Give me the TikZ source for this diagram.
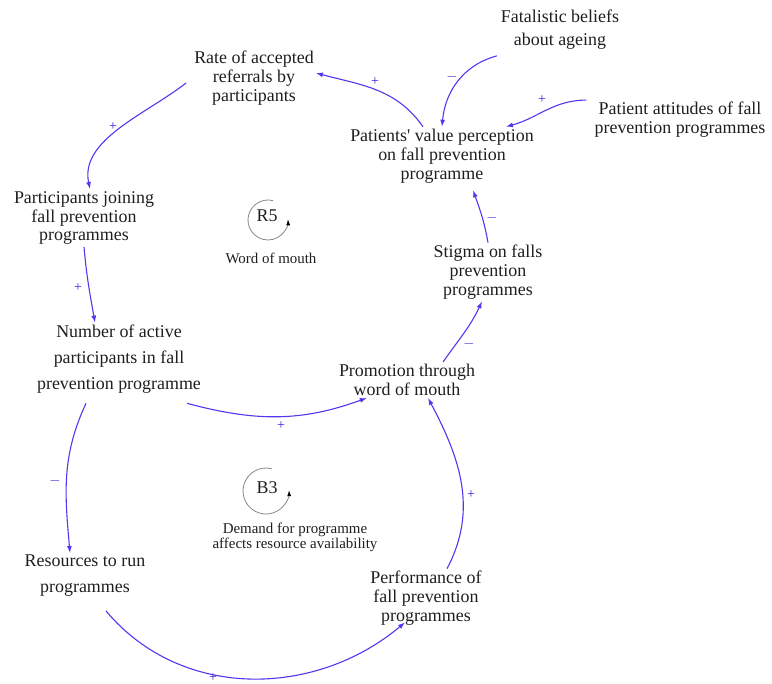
\documentclass[tikz,border=0pt]{standalone}
\usepackage{fontspec}
\setmainfont{Liberation Serif}
\newfontfamily\rawserif{Liberation Serif}[Ligatures=TeXOff]
\usetikzlibrary{arrows.meta,calc}
\definecolor{linkblue}{RGB}{88,52,240}
\definecolor{signblue}{RGB}{60,30,225}
\definecolor{loopgray}{RGB}{135,135,135}
\definecolor{ink}{RGB}{30,30,30}

\begin{document}
\begin{tikzpicture}[x=1bp,y=1bp,
  var/.style={align=center, text=ink, font=\fontsize{18}{19}\selectfont, inner sep=2bp},
  wide/.style={font=\fontsize{18}{26}\selectfont},
  link/.style={draw=linkblue, line width=1.1bp, -{Latex[length=7bp,width=5bp]}},
  pol/.style={text=signblue, font=\fontsize{14}{14}\selectfont, inner sep=0pt},
  looplabel/.style={align=center, text=ink, font=\fontsize{15}{15}\selectfont},
  loopsym/.style={draw=loopgray, line width=0.8bp, -{Latex[length=6bp,width=4bp,color=black]}}
]
\useasboundingbox (0,0) rectangle (772,-684);

% variables
\node[var, font=\fontsize{18}{23}\selectfont] (fat) at (560,-30) {Fatalistic beliefs\\about ageing};
\node[var] (rate) at (254,-78) {Rate of accepted\\referrals by\\participants};
\node[var] (value) at (442,-156) {Patients{\rawserif'} value perception\\on fall prevention\\programme};
\node[var] (att) at (680,-120) {Patient attitudes of fall\\prevention programmes};
\node[var] (join) at (84,-218) {Participants joining\\fall prevention\\programmes};
\node[var] (stig) at (488,-272) {Stigma on falls\\prevention\\programmes};
\node[var, wide] (num) at (119,-359) {Number of active\\participants in fall\\prevention programme};
\node[var] (prom) at (407,-380) {Promotion through\\word of mouth};
\node[var, wide] (res) at (85,-576) {Resources to run\\programmes};
\node[var] (perf) at (426,-598) {Performance of\\fall prevention\\programmes};

% causal links
\draw[link] ([xshift=-2bp,yshift=-4bp]fat.south west) to[out=195,in=85] (value.north);
\draw[link] ([xshift=-6bp]att.north west) to[out=180,in=15] ([xshift=-30bp]value.north east);
\draw[link] ([xshift=-19bp]value.north) to[out=125,in=-15] ([yshift=5bp]rate.east);
\draw[link] ([xshift=-6bp,yshift=-5bp]rate.west) to[out=218,in=102,looseness=0.9] ([xshift=6bp]join.north);
\draw[link] (join.south) to[out=-85,in=100] ([xshift=-24bp]num.north);
\draw[link] ([xshift=-16bp,yshift=-8bp]num.south east) to[out=-15,in=200] ([xshift=30bp]prom.south west);
\draw[link] ([xshift=36bp]prom.north) to[out=55,in=-115] ([xshift=-6bp]stig.south);
\draw[link] (stig.north) to[out=100,in=-70] ([xshift=31bp,yshift=-5bp]value.south);
\draw[link] ([xshift=-33bp,yshift=-8bp]num.south) to[out=-115,in=95] ([xshift=-15bp]res.north);
\draw[link] ([xshift=21bp,yshift=-12bp]res.south) to[out=-50,in=-140] ([xshift=-21bp,yshift=5bp]perf.south);
\draw[link] ([xshift=21bp]perf.north) to[out=62,in=-62] ([xshift=21bp]prom.south);

% polarities
\node[pol] (p1) at (452,-77) {$-$};
\node[pol] (p2) at (542,-100) {+};
\node[pol] (p3) at (375,-82) {+};
\node[pol] (p4) at (113,-127) {+};
\node[pol] (p5) at (78,-288) {+};
\node[pol] (p6) at (281,-426) {+};
\node[pol] (p7) at (469,-344) {$-$};
\node[pol] (p8) at (492,-218) {$-$};
\node[pol] (p9) at (55,-481) {$-$};
\node[pol] (p10) at (213,-678) {+};
\node[pol] (p11) at (471,-495) {+};

% loop markers
\coordinate (r5c) at (268,-220);
\draw[loopsym] ($(r5c)+(75:20)$) arc[start angle=75,end angle=362,radius=20];
\node[var] (r5) at (267,-216) {R5};
\node[looplabel] (wom) at (271,-258) {Word of mouth};

\coordinate (b3c) at (266,-491);
\draw[loopsym] ($(b3c)+(75:23)$) arc[start angle=75,end angle=362,radius=23];
\node[var] (b3) at (267,-488) {B3};
\node[looplabel] (dem) at (295,-537) {Demand for programme\\affects resource availability};
\end{tikzpicture}
\end{document}
